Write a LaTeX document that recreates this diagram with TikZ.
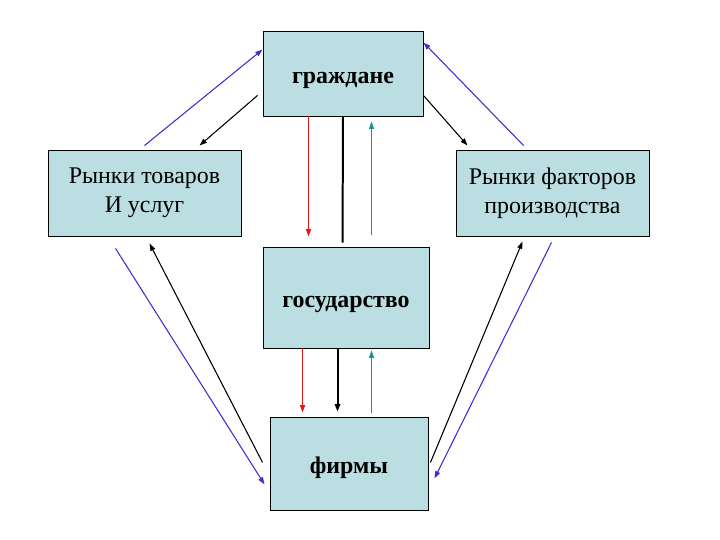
\documentclass[tikz,border=0pt]{standalone}
\usepackage{fontspec}
\setmainfont{Liberation Serif}
\usetikzlibrary{positioning,arrows.meta,calc}
\definecolor{caja}{RGB}{186,222,226}
\definecolor{azul}{RGB}{60,50,200}
\definecolor{rojo}{RGB}{225,25,25}
\definecolor{turquesa}{RGB}{20,150,150}

\begin{document}
\begin{tikzpicture}[x=0.03cm, y=-0.03cm,
  bloque/.style={draw=black, fill=caja, line width=0.8pt, inner sep=0pt,
    align=center, font=\fontsize{20.4}{24.5}\selectfont,
    execute at begin node={\rule{0pt}{1.05em}}},
  flecha/.style={-{Triangle[length=2.2mm,width=1.5mm]}, line width=0.9pt,
    draw=#1, fill=#1},
  gruesa/.style={line width=1.7pt, draw=black},
]
  \useasboundingbox (0,0) rectangle (720,540);
  % Bloques
  \node[bloque, minimum width=4.8cm, minimum height=2.55cm] (g) at (343,73.5)
    {\textbf{граждане}};
  \node[bloque, minimum width=5.79cm, minimum height=2.58cm] (rt) at (144.5,193)
    {Рынки товаров\\И услуг};
  \node[bloque, minimum width=5.79cm, minimum height=2.58cm] (rf) at (552.5,193)
    {Рынки факторов\\производства};
  \node[bloque, minimum width=4.98cm, minimum height=3.03cm] (gos) at (346,297.5)
    {\textbf{государство}};
  \node[bloque, minimum width=4.74cm, minimum height=2.79cm] (f) at (349,463.5)
    {\textbf{фирмы}};
  % Flechas de arriba
  \draw[flecha=azul] ($(rt.north)+(0,-4)$) -- ($(g.north west)+(0,19)$);
  \draw[flecha=black] ($(g.south west)+(-5,-21)$) -- ($(rt.north west)+(152,-4)$);
  \draw[flecha=azul] ($(rf.north west)+(68,-4)$) -- ($(g.north east)+(0,12)$);
  \draw[flecha=black] ($(g.south east)+(0,-21)$) -- ($(rf.north west)+(12,-4)$);
  % Flechas verticales
  \draw[flecha=rojo, line width=1.2pt] ($(g.south west)+(46,0)$) -- ($(gos.north west)+(46,-10)$);
  \draw[gruesa] (g.south) -- ($(gos.north west)+(80,-4)$);
  \draw[flecha=turquesa, line width=0.6pt] ($(gos.north west)+(109,-12)$) -- ($(g.south west)+(109,5)$);
  \draw[flecha=rojo, line width=1.2pt] ($(gos.south west)+(40,0)$) -- ($(f.north west)+(33,-4)$);
  \draw[gruesa, -{Triangle[length=2.2mm,width=1.6mm]}]
    ($(gos.south west)+(75,0)$) -- ($(f.north west)+(68,-5)$);
  \draw[flecha=turquesa, line width=0.6pt] ($(f.north west)+(102,-4)$) -- ($(gos.south west)+(109,2)$);
  % Flechas de abajo
  \draw[flecha=azul] ($(rt.south west)+(68,12)$) -- ($(f.south west)+(-5,-26)$);
  \draw[flecha=black] ($(f.south west)+(-7,-48)$) -- ($(rt.south west)+(102,7)$);
  \draw[flecha=black] ($(f.south east)+(2,-48)$) -- ($(rf.south west)+(67,5)$);
  \draw[flecha=azul] ($(rf.south west)+(96,6)$) -- ($(f.south east)+(6,-32)$);
\end{tikzpicture}
\end{document}
